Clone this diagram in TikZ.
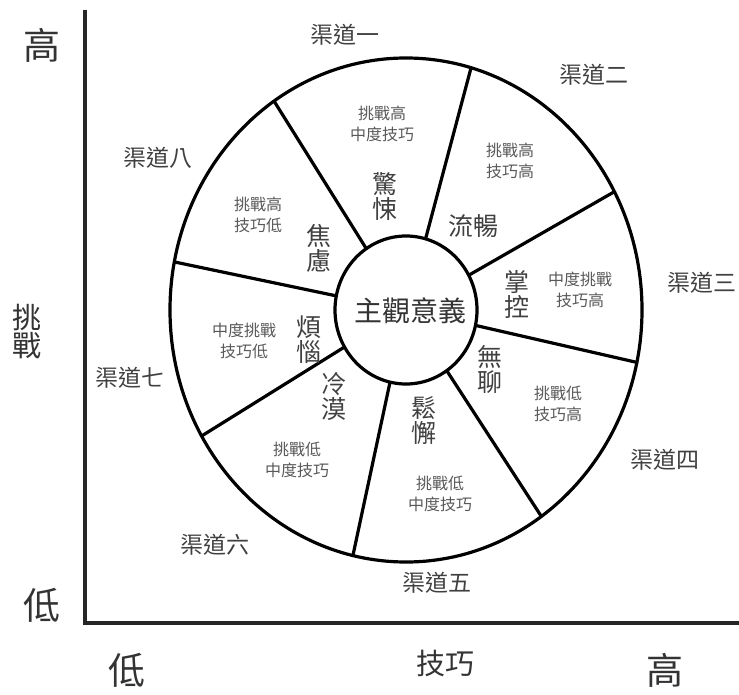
\documentclass[tikz,border=0pt]{standalone}
\usepackage{fontspec}
\newfontfamily\cjk{Noto Sans CJK TC}
\begin{document}
\begin{tikzpicture}[x=1pt,y=-1pt,
  ring/.style={line width=3.2pt,black},
  axis/.style={line width=3.6pt,black!85},
  big/.style={font=\cjk\fontsize{37}{40}\selectfont,text=black!80,inner sep=0pt},
  axislabel/.style={font=\cjk\fontsize{29}{32}\selectfont,text=black!80,inner sep=0pt,align=center},
  channel/.style={font=\cjk\fontsize{23}{26}\selectfont,text=black!75,inner sep=0pt},
  mood/.style={font=\cjk\fontsize{25}{28}\selectfont,text=black!75,inner sep=0pt,align=center},
  cell/.style={font=\cjk\fontsize{16}{21}\selectfont,text=black!65,inner sep=0pt,align=center}]
\useasboundingbox (0,0) rectangle (739,695);

% axes
\coordinate (top) at (85,10);
\coordinate (origin) at (85,623);
\coordinate (right) at (739,623);
\draw[axis] (top) -- (origin) -- (right);

% axis labels
\node[big] (hiY) at (42,45) {高};
\node[big] (loY) at (42,605) {低};
\node[axislabel] (chal) at (27,332) {挑\\[-4pt]戰};
\node[big] (loX) at (127,670) {低};
\node[axislabel] (skill) at (445,663) {技巧};
\node[big] (hiX) at (665,670) {高};

% outer wheel and hub
\draw[ring] (406,310) ellipse [x radius=236, y radius=252];
\draw[ring] (406,310) ellipse [x radius=71, y radius=74];

% spokes between hub and rim
\foreach \i/\a in {1/124,2/74,3/28,4/-12,5/-55,6/-103,7/-150,8/169}{
  \coordinate (in\i) at ({406+71*cos(\a)},{310-74*sin(\a)});
  \coordinate (out\i) at ({406+236*cos(\a)},{310-252*sin(\a)});
  \draw[ring] (in\i) -- (out\i);
}

% hub label
\node[font=\cjk\fontsize{28}{31}\selectfont,text=black!80,inner sep=0pt] (hub) at (410,311) {主觀意義};

% channel names
\node[channel] (c1) at (345,35) {渠道一};
\node[channel] (c2) at (594,75) {渠道二};
\node[channel] (c3) at (702,283) {渠道三};
\node[channel] (c4) at (665,460) {渠道四};
\node[channel] (c5) at (437,583) {渠道五};
\node[channel] (c6) at (215,545) {渠道六};
\node[channel] (c7) at (130,378) {渠道七};
\node[channel] (c8) at (158,158) {渠道八};

% states
\node[mood] (m1) at (385,197) {驚\\[-3pt]悚};
\node[mood] (m2) at (473,226) {流暢};
\node[mood] (m3) at (517,295) {掌\\[-3pt]控};
\node[mood] (m4) at (490,369) {無\\[-3pt]聊};
\node[mood] (m5) at (424,421) {鬆\\[-3pt]懈};
\node[mood] (m6) at (334,396) {冷\\[-3pt]漠};
\node[mood] (m7) at (309,340) {煩\\[-3pt]惱};
\node[mood] (m8) at (319,248) {焦\\[-3pt]慮};

% challenge / skill pairs
\node[cell] (s1) at (382,124) {挑戰高\\中度技巧};
\node[cell] (s2) at (510,161) {挑戰高\\技巧高};
\node[cell] (s3) at (580,290) {中度挑戰\\技巧高};
\node[cell] (s4) at (558,404) {挑戰低\\技巧高};
\node[cell] (s5) at (440,494) {挑戰低\\中度技巧};
\node[cell] (s6) at (297,460) {挑戰低\\中度技巧};
\node[cell] (s7) at (244,341) {中度挑戰\\技巧低};
\node[cell] (s8) at (258,215) {挑戰高\\技巧低};
\end{tikzpicture}
\end{document}
